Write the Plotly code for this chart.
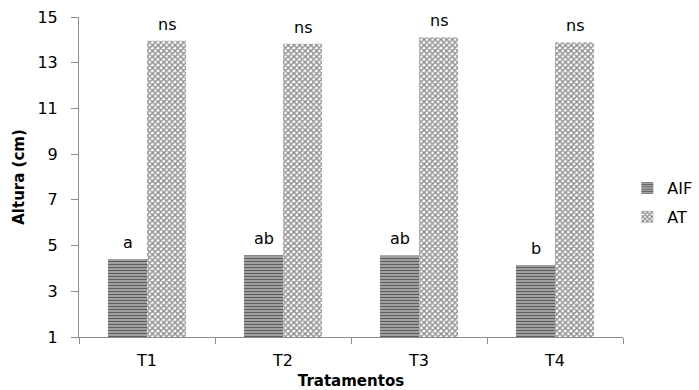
import plotly.graph_objects as go

categories = ["T1", "T2", "T3", "T4"]
aif_values = [4.41, 4.58, 4.57, 4.15]
at_values = [13.96, 13.83, 14.11, 13.89]
aif_letters = ["a", "ab", "ab", "b"]
at_letters = ["ns", "ns", "ns", "ns"]
y_ticks = [1, 3, 5, 7, 9, 11, 13, 15]

FONT = "DejaVu Sans, Arial, sans-serif"

fig = go.Figure()
fig.add_trace(go.Bar(
    name="AIF", x=categories, y=aif_values, legendgroup="g1",
    marker=dict(color="#8a8a8a", line=dict(width=0),
                pattern=dict(shape="-", fgcolor="#111111", bgcolor="#a8a8a8",
                             size=3, solidity=0.4)),
))
fig.add_trace(go.Bar(
    name="AT", x=categories, y=at_values, legendgroup="g2",
    marker=dict(color="white", line=dict(width=0),
                pattern=dict(shape="x", fgcolor="#1a1a1a", bgcolor="#ffffff",
                             size=4, solidity=0.6)),
))

# significance letters above each bar
for i, cat in enumerate(categories):
    fig.add_annotation(x=cat, y=aif_values[i], text=aif_letters[i], xshift=-19.5,
                       yanchor="bottom", yshift=5, showarrow=False,
                       font=dict(family=FONT, size=16, color="black"))
    fig.add_annotation(x=cat, y=at_values[i], text=at_letters[i], xshift=19.5,
                       yanchor="bottom", yshift=5, showarrow=False,
                       font=dict(family=FONT, size=16, color="black"))

fig.update_layout(
    width=699, height=390,
    margin=dict(l=79, r=76, t=17, b=53, autoexpand=False),
    paper_bgcolor="white", plot_bgcolor="white",
    barmode="group", bargap=0.426, bargroupgap=0,
    font=dict(family=FONT, size=16, color="black"),
    showlegend=True,
    legend=dict(x=1.008, y=0.42, xanchor="left", yanchor="middle",
                font=dict(family=FONT, size=16, color="black"),
                itemwidth=30, traceorder="grouped", tracegroupgap=5,
                bgcolor="rgba(0,0,0,0)"),
)
fig.update_yaxes(
    range=[1, 15], tickvals=y_ticks, ticktext=[str(v) for v in y_ticks],
    showgrid=False, zeroline=False,
    showline=True, linecolor="#8c8c8c", linewidth=1,
    ticks="outside", ticklen=7, tickcolor="#8c8c8c", ticklabelstandoff=10,
    tickfont=dict(family=FONT, size=16, color="black"),
    title=dict(text="<b>Altura (cm)</b>", font=dict(family=FONT, size=15, color="black"), standoff=9),
)
fig.update_xaxes(
    showgrid=False, showline=True, linecolor="#8c8c8c", linewidth=1,
    ticks="outside", ticklen=6, tickcolor="#8c8c8c", tickson="boundaries",
    ticklabelstandoff=9,
    tickfont=dict(family=FONT, size=16, color="black"),
    title=dict(text="<b>Tratamentos</b>", font=dict(family=FONT, size=15, color="black"), standoff=12),
)

fig.write_html("out.html", config={"displayModeBar": False},
               post_script="document.body.style.margin='0';document.body.style.overflow='hidden';")
